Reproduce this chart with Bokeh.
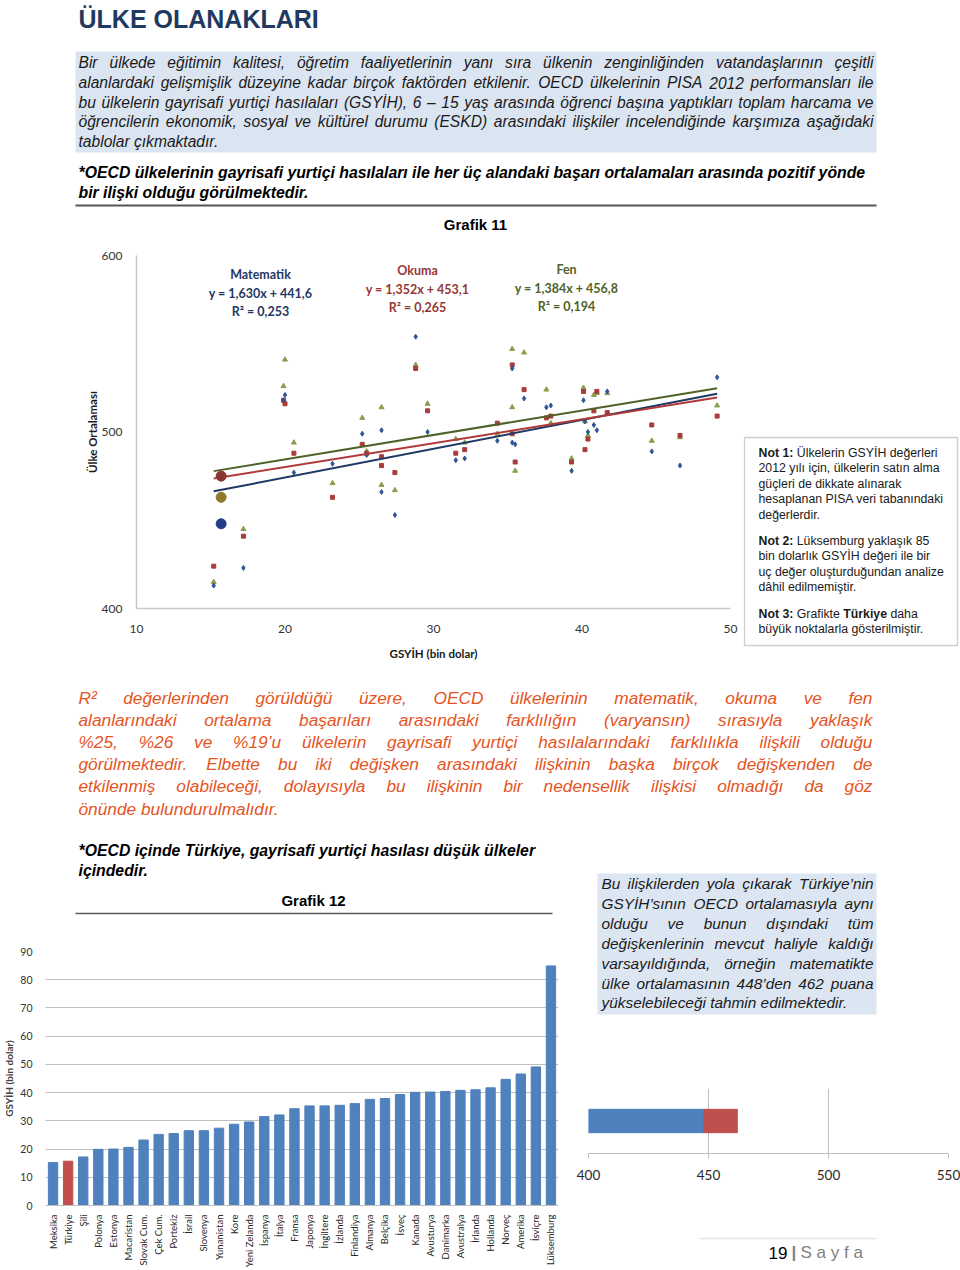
import math
from bokeh.plotting import figure
from bokeh.models import Range1d, FactorRange, Label, FixedTicker
from bokeh.layouts import column, row
from bokeh.core.properties import value
from bokeh.embed import file_html
from bokeh.resources import INLINE

# ---------------- data ----------------
countries = ["Meksika", "Türkiye", "Şili", "Polonya", "Estonya", "Macaristan", "Slovak Cum.",
             "Çek Cum.", "Portekiz", "İsrail", "Slovenya", "Yunanistan", "Kore", "Yeni Zelanda",
             "İspanya", "İtalya", "Fransa", "Japonya", "İngiltere", "İzlanda", "Finlandiya",
             "Almanya", "Belçika", "İsveç", "Kanada", "Avusturya", "Danimarka", "Avustralya",
             "İrlanda", "Hollanda", "Norveç", "Amerika", "İsviçre", "Lüksemburg"]
gdp = [15.2, 15.7, 17.2, 19.9, 20.0, 20.6, 23.2, 25.2, 25.5, 26.5, 26.5, 27.4, 28.8, 29.6,
       31.5, 32.1, 34.3, 35.3, 35.3, 35.5, 36.1, 37.6, 37.9, 39.3, 40.1, 40.2, 40.4, 40.8,
       41.0, 41.7, 44.7, 46.6, 49.1, 84.9]
# PISA 2012 averages (same order, without Lüksemburg)
math_scores = [413, 448, 423, 518, 521, 477, 482, 499, 487, 466, 501, 453, 554, 500, 484, 485,
               495, 536, 494, 493, 519, 514, 515, 478, 518, 506, 500, 504, 501, 523, 489, 481, 531]
reading_scores = [424, 475, 441, 518, 516, 488, 463, 493, 488, 486, 481, 477, 536, 512, 488, 490,
                  505, 538, 499, 483, 524, 508, 509, 483, 523, 490, 496, 512, 523, 511, 504, 498, 509]
science_scores = [415, 463, 445, 526, 541, 494, 471, 508, 489, 470, 514, 467, 538, 516, 496, 494,
                  499, 547, 514, 478, 545, 524, 505, 485, 525, 506, 498, 521, 522, 522, 495, 497, 515]
trend_names = ["Matematik", "Okuma", "Fen"]
trend_slope = [1.630, 1.352, 1.384]
trend_icept = [441.6, 453.1, 456.8]
trend_r2 = ["0,253", "0,265", "0,194"]
trend_eq = ["y = 1,630x + 441,6", "y = 1,352x + 453,1", "y = 1,384x + 456,8"]
x_ticks_11 = [10, 20, 30, 40, 50]
y_ticks_11 = [400, 500, 600]
y_ticks_12 = [0, 10, 20, 30, 40, 50, 60, 70, 80, 90]
hbar_ticks = [400, 450, 500, 550]
turkey_math_now = 448
turkey_math_est = 462
turkey = "Türkiye"

# ---------------- text helpers ----------------
REG = {' ': 278, '%': 889, "'": 191, '(': 333, ')': 333, '*': 389, ',': 278, '-': 333, '.': 278,
       ':': 278, '–': 556, '’': 222, '²': 333, '=': 584, '+': 584}
for c in "0123456789":
    REG[c] = 556
REG.update(dict(zip("ABCDEFGHIJKLMNOPQRSTUVWXYZ",
                    [667, 667, 722, 722, 667, 611, 778, 722, 278, 500, 667, 556, 833, 722, 778, 667,
                     778, 722, 667, 611, 722, 667, 944, 667, 667, 611])))
REG.update(dict(zip("abcdefghijklmnopqrstuvwxyz",
                    [556, 556, 500, 556, 556, 278, 556, 556, 222, 222, 500, 222, 833, 556, 556, 556,
                     556, 333, 500, 278, 556, 500, 722, 500, 500, 500])))
REG.update({'ı': 278, 'ş': 500, 'ç': 500, 'ğ': 556, 'ü': 556, 'ö': 556, 'â': 556, 'İ': 278,
            'Ş': 667, 'Ç': 722, 'Ğ': 778, 'Ü': 722, 'Ö': 778})
BOLD = {' ': 278, ':': 333, 'N': 722, 'o': 611, 't': 333, 'T': 611, 'ü': 611, 'r': 389, 'k': 556,
        'i': 278, 'y': 556, 'e': 556}
for c in "0123456789":
    BOLD[c] = 556

FONT = "Liberation Sans"
CFONT = "Lato"


def tw(s, fs, table=REG):
    return sum(table.get(c, 556) for c in s) * fs / 1000.0


def wrap(p):
    return column(p)


def text_fig(x0, x1, y0, y1, fx0=None, fx1=None):
    # pixel-coordinate canvas; optional frame sub-range with matching borders
    fx0 = x0 if fx0 is None else fx0
    fx1 = x1 if fx1 is None else fx1
    p = figure(width=x1 - x0, height=y1 - y0, x_range=Range1d(fx0, fx1), y_range=Range1d(y1, y0),
               toolbar_location=None, output_backend="svg", x_axis_location=None,
               y_axis_location=None, min_border=0, min_border_left=fx0 - x0,
               min_border_right=x1 - fx1)
    p.grid.visible = False
    p.outline_line_color = None
    p.background_fill_color = "white"
    p.border_fill_color = "white"
    return p


def put_lines(p, lines, ys, x0, x1, fs, color, style="italic"):
    xs_all, ys_all, words_all = [], [], []
    for i, (line, y) in enumerate(zip(lines, ys)):
        if i == len(lines) - 1:
            xs_all.append(x0); ys_all.append(y); words_all.append(line)
            continue
        words = line.split(" ")
        ws = [tw(w, fs) for w in words]
        gap = (x1 - x0 - sum(ws)) / (len(words) - 1)
        gap = max(gap, 0.12 * fs)
        x = x0
        for w, wd in zip(words, ws):
            xs_all.append(x); ys_all.append(y); words_all.append(w)
            x += wd + gap
    p.text(x=xs_all, y=ys_all, text=words_all, text_font=value(FONT), text_font_size=f"{fs}px",
           text_font_style=style, text_color=color, text_align="left", text_baseline="middle")


# ---------------- header ----------------
hdr = text_fig(0, 960, 0, 210)
hdr.text(x=[78], y=[18], text=["ÜLKE OLANAKLARI"], text_font=value(FONT),
         text_font_size="25px", text_font_style="bold", text_color="#1F3A60",
         text_align="left", text_baseline="middle")
hdr.quad(left=[75], right=[876], top=[51], bottom=[152], fill_color="#DBE5F1", line_color=None)
intro = ["Bir ülkede eğitimin kalitesi, öğretim faaliyetlerinin yanı sıra ülkenin zenginliğinden vatandaşlarının çeşitli",
         "alanlardaki gelişmişlik düzeyine kadar birçok faktörden etkilenir. OECD ülkelerinin PISA 2012 performansları ile",
         "bu ülkelerin gayrisafi yurtiçi hasılaları (GSYİH), 6 – 15 yaş arasında öğrenci başına yaptıkları toplam harcama ve",
         "öğrencilerin ekonomik, sosyal ve kültürel durumu (ESKD) arasındaki ilişkiler incelendiğinde karşımıza aşağıdaki",
         "tablolar çıkmaktadır."]
put_lines(hdr, intro, [62, 82, 101.5, 121, 141], 78, 873, 15.6, "#1A1A1A")
hdr.text(x=[78, 78], y=[172, 192],
         text=["*OECD ülkelerinin gayrisafi yurtiçi hasılaları ile her üç alandaki başarı ortalamaları arasında pozitif yönde",
               "bir ilişki olduğu görülmektedir."],
         text_font=value(FONT), text_font_size="15.8px", text_font_style="bold italic",
         text_color="#000000", text_align="left", text_baseline="middle")
hdr.line(x=[75, 876], y=[205, 205], line_color="#555555", line_width=2)

# ---------------- Grafik 11 title strip ----------------
g11 = text_fig(0, 960, 210, 245)
g11.text(x=[475], y=[224], text=["Grafik 11"], text_font=value(FONT), text_font_size="15px",
         text_font_style="bold", text_color="#000000", text_align="center", text_baseline="middle")

# ---------------- Grafik 11 (scatter) ----------------
sc = figure(width=743, height=423, x_range=Range1d(10, 50), y_range=Range1d(400, 600),
            toolbar_location=None, output_backend="svg", min_border_left=136,
            min_border_right=13, min_border_top=10, min_border_bottom=60)
sc.outline_line_color = None
sc.grid.visible = False
sc.background_fill_color = "white"
for ax in (sc.xaxis[0], sc.yaxis[0]):
    ax.axis_line_color = "#C8C8C8"
    ax.axis_line_width = 1.5
    ax.major_tick_line_color = None
    ax.minor_tick_line_color = None
    ax.major_label_text_font = CFONT
    ax.major_label_text_font_size = "12px"
    ax.major_label_text_color = "#333333"
    ax.axis_label_text_font = CFONT
    ax.axis_label_text_font_size = "11.5px"
    ax.axis_label_text_font_style = "bold"
    ax.axis_label_text_color = "#1A1A1A"
sc.xaxis.ticker = FixedTicker(ticks=x_ticks_11)
sc.yaxis.ticker = FixedTicker(ticks=y_ticks_11)
sc.xaxis.major_label_standoff = 10
sc.yaxis.major_label_standoff = 8
sc.xaxis.axis_label = "GSYİH (bin dolar)"
sc.xaxis.axis_label_standoff = 11
sc.yaxis.axis_label = "Ülke Ortalaması"
sc.yaxis.axis_label_standoff = 0

n_sc = len(math_scores)
others = [i for i in range(n_sc) if countries[i] != turkey]
ti = countries.index(turkey)
xo = [gdp[i] for i in others]
sc.scatter(xo, [science_scores[i] for i in others], marker="triangle", size=5, color="#86A04F")
sc.scatter(xo, [reading_scores[i] for i in others], marker="square", size=4, color="#A83C3A")
sc.scatter(xo, [math_scores[i] for i in others], marker="diamond", size=5, color="#2F5597")

xmin, xmax = min(gdp[:n_sc]), max(gdp[:n_sc])
line_cols = ["#1F3864", "#B03A3A", "#4F6228"]
for a, b, c in zip(trend_slope, trend_icept, line_cols):
    sc.line([xmin, xmax], [a * xmin + b, a * xmax + b], line_color=c, line_width=2)

sc.scatter([gdp[ti]], [reading_scores[ti]], marker="circle", size=10, color="#8B3535")
sc.scatter([gdp[ti]], [science_scores[ti]], marker="circle", size=10, color="#8C7A2A")
sc.scatter([gdp[ti]], [math_scores[ti]], marker="circle", size=10, color="#243B86")


def d11(px, py):
    return 10 + (px - 136) * 40.0 / 594.0, 400 + (608 - py) * 200.0 / 353.0


lab_cols = ["#1F3864", "#953735", "#4F6228"]
lab_pos = [(260, 274), (417, 270), (566, 269)]
for name, eq, r2, col, (px, py) in zip(trend_names, trend_eq, trend_r2, lab_cols, lab_pos):
    for k, t in enumerate([name, eq, "R² = " + r2]):
        xd, yd = d11(px, py + 18.5 * k)
        sc.add_layout(Label(x=xd, y=yd, text=t, text_font=CFONT, text_font_size="12.5px",
                            text_font_style="bold", text_color=col, text_align="center",
                            text_baseline="middle"))

# ---------------- notes ----------------
nt = text_fig(743, 960, 245, 668)
nt.quad(left=[744], right=[957], top=[437], bottom=[645], fill_color="white",
        line_color="#D0D0D0", line_width=1.5)
notes = [
    [("Not 1:", "b"), ("Ülkelerin GSYİH değerleri", "r")],
    [("2012 yılı için, ülkelerin satın alma", "r")],
    [("güçleri de dikkate alınarak", "r")],
    [("hesaplanan PISA veri tabanındaki", "r")],
    [("değerlerdir.", "r")],
    [("Not 2:", "b"), ("Lüksemburg yaklaşık 85", "r")],
    [("bin dolarlık GSYİH değeri ile bir", "r")],
    [("uç değer oluşturduğundan analize", "r")],
    [("dâhil edilmemiştir.", "r")],
    [("Not 3:", "b"), ("Grafikte", "r"), ("Türkiye", "b"), ("daha", "r")],
    [("büyük noktalarla gösterilmiştir.", "r")],
]
note_y = [452, 467.5, 483, 498.5, 514, 540, 555.5, 571, 586.5, 613, 628.5]
NFS = 12.3
rx, ry, rt, bx, by, bt = [], [], [], [], [], []
for segs, y in zip(notes, note_y):
    x = 758
    for t, s in segs:
        if s == "b":
            bx.append(x); by.append(y); bt.append(t)
            x += tw(t, NFS, BOLD) + tw(" ", NFS)
        else:
            rx.append(x); ry.append(y); rt.append(t)
            x += tw(t, NFS) + tw(" ", NFS)
nt.text(x=rx, y=ry, text=rt, text_font=value(FONT), text_font_size=f"{NFS}px",
        text_color="#1A1A1A", text_align="left", text_baseline="middle")
nt.text(x=bx, y=by, text=bt, text_font=value(FONT), text_font_size=f"{NFS}px",
        text_font_style="bold", text_color="#1A1A1A", text_align="left", text_baseline="middle")

# ---------------- orange paragraph ----------------
pg = text_fig(0, 960, 668, 830)
para = ["R² değerlerinden görüldüğü üzere, OECD ülkelerinin matematik, okuma ve fen",
        "alanlarındaki ortalama başarıları arasındaki farklılığın (varyansın) sırasıyla yaklaşık",
        "%25, %26 ve %19’u ülkelerin gayrisafi yurtiçi hasılalarındaki farklılıkla ilişkili olduğu",
        "görülmektedir. Elbette bu iki değişken arasındaki ilişkinin başka birçok değişkenden de",
        "etkilenmiş olabileceği, dolayısıyla bu ilişkinin bir nedensellik ilişkisi olmadığı da göz",
        "önünde bulundurulmalıdır."]
put_lines(pg, para, [697, 719, 741, 763, 785, 808], 78, 872, 17.3, "#E5541E")

# ---------------- bottom-left heading ----------------
bh = text_fig(0, 573, 830, 920, 43, 558)
bh.text(x=[78, 78], y=[850, 870],
        text=["*OECD içinde Türkiye, gayrisafi yurtiçi hasılası düşük ülkeler", "içindedir."],
        text_font=value(FONT), text_font_size="15.8px", text_font_style="bold italic",
        text_color="#000000", text_align="left", text_baseline="middle")
bh.text(x=[313], y=[900], text=["Grafik 12"], text_font=value(FONT), text_font_size="15px",
        text_font_style="bold", text_color="#000000", text_align="center", text_baseline="middle")
bh.line(x=[75, 552], y=[913, 913], line_color="#595959", line_width=1.5)

# ---------------- Grafik 12 (bars) ----------------
bf = figure(width=573, height=350, x_range=FactorRange(factors=countries),
            y_range=Range1d(0, 90), toolbar_location=None, output_backend="svg",
            min_border_left=43, min_border_right=15, min_border_top=31, min_border_bottom=65)
bf.outline_line_color = None
bf.background_fill_color = "white"
bar_cols = ["#C0504D" if c == turkey else "#4F81BD" for c in countries]
bf.vbar(x=countries, top=gdp, width=0.62, color=bar_cols)
bf.xgrid.visible = False
bf.ygrid.grid_line_color = "#BFBFBF"
bf.yaxis.ticker = FixedTicker(ticks=y_ticks_12)
bf.yaxis.axis_line_color = None
bf.yaxis.major_tick_line_color = None
bf.yaxis.minor_tick_line_color = None
bf.yaxis.major_label_standoff = 7
bf.yaxis.major_label_text_font = CFONT
bf.yaxis.major_label_text_font_size = "10.5px"
bf.yaxis.major_label_text_color = "#333333"
bf.yaxis.axis_label = "GSYİH (bin dolar)"
bf.yaxis.axis_label_standoff = 2
bf.yaxis.axis_label_text_font = CFONT
bf.yaxis.axis_label_text_font_size = "10px"
bf.yaxis.axis_label_text_font_style = "bold"
bf.xaxis.axis_line_color = "#BFBFBF"
bf.xaxis.major_tick_line_color = None
bf.xaxis.major_label_orientation = math.pi / 2
bf.xaxis.major_label_standoff = 3
bf.xaxis.major_label_text_font = CFONT
bf.xaxis.major_label_text_font_size = "9.5px"
bf.xaxis.major_label_text_color = "#262626"

# ---------------- right text box ----------------
rb = text_fig(573, 960, 830, 1080, 588, 948)
rb.quad(left=[597], right=[876], top=[873], bottom=[1014], fill_color="#DCE6F2", line_color=None)
box_lines = ["Bu ilişkilerden yola çıkarak Türkiye’nin",
             "GSYİH’sının OECD ortalamasıyla aynı",
             "olduğu ve bunun dışındaki tüm",
             "değişkenlerinin mevcut haliyle kaldığı",
             "varsayıldığında, örneğin matematikte",
             "ülke ortalamasının 448’den 462 puana",
             "yükselebileceği tahmin edilmektedir."]
put_lines(rb, box_lines, [883, 903, 923, 943, 963, 983, 1002], 601, 873, 15.4, "#1A1A1A")

# ---------------- horizontal bar ----------------
hb = figure(width=387, height=115, x_range=Range1d(hbar_ticks[0], hbar_ticks[-1]),
            y_range=FactorRange(factors=["Matematik"]), toolbar_location=None,
            output_backend="svg", y_axis_location=None, min_border_left=15,
            min_border_right=12, min_border_top=8, min_border_bottom=42)
hb.outline_line_color = None
hb.background_fill_color = "white"
hb.hbar(y=["Matematik"], left=[hbar_ticks[0]], right=[turkey_math_now], height=0.36,
        color="#4F81BD")
hb.hbar(y=["Matematik"], left=[turkey_math_now], right=[turkey_math_est], height=0.36,
        color="#C0504D")
hb.ygrid.visible = False
hb.xgrid.grid_line_color = "#BFBFBF"
hb.xaxis.ticker = FixedTicker(ticks=hbar_ticks)
hb.xgrid.ticker = FixedTicker(ticks=hbar_ticks)
hb.xaxis.axis_line_color = "#BFBFBF"
hb.xaxis.major_tick_line_color = "#BFBFBF"
hb.xaxis.major_tick_out = 5
hb.xaxis.major_tick_in = 0
hb.xaxis.minor_tick_line_color = None
hb.xaxis.major_label_standoff = 11
hb.xaxis.major_label_text_font = CFONT
hb.xaxis.major_label_text_font_size = "13.5px"
hb.xaxis.major_label_text_color = "#262626"

# ---------------- footer ----------------
ft = text_fig(573, 960, 1195, 1270, 588, 948)
ft.line(x=[700, 875], y=[1238, 1238], line_color="#E6E6E6", line_width=1.5)
ft.text(x=[768], y=[1252], text=["19"], text_font=value(FONT), text_font_size="17px",
        text_color="#000000", text_align="left", text_baseline="middle")
ft.text(x=[791], y=[1252], text=["|"], text_font=value(FONT), text_font_size="17px",
        text_font_style="bold", text_color="#7F7F7F", text_align="left", text_baseline="middle")
ft.text(x=[800], y=[1252], text=["S a y f a"], text_font=value(FONT), text_font_size="17px",
        text_color="#7F7F7F", text_align="left", text_baseline="middle")

layout = column(
    hdr,
    g11,
    row(wrap(sc), wrap(nt)),
    pg,
    row(column(wrap(bh), wrap(bf)), column(wrap(rb), wrap(hb), wrap(ft))),
)

open("out.html", "w").write(file_html(layout, INLINE))
